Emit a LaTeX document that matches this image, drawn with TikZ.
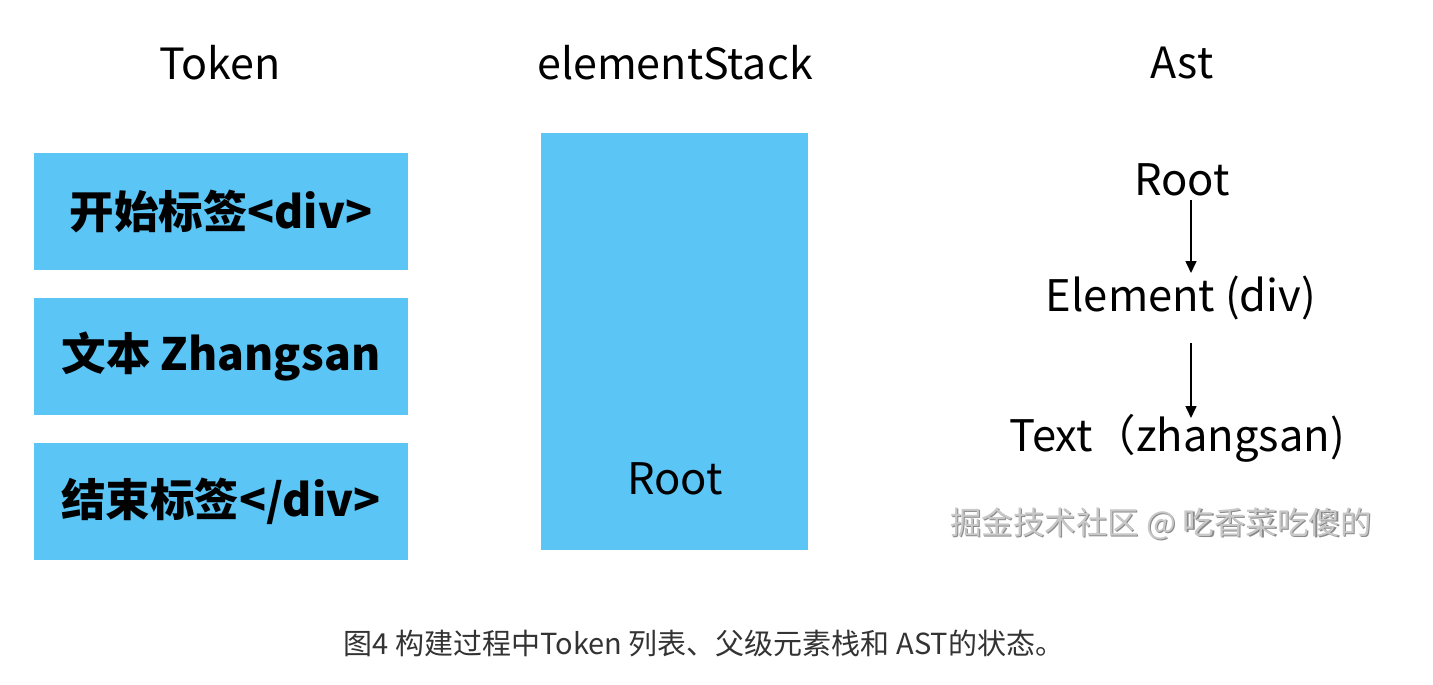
\documentclass[tikz,border=0pt]{standalone}
\usepackage{fontspec}
\setmainfont{Noto Sans CJK SC}
\usetikzlibrary{arrows.meta}
\definecolor{boxblue}{HTML}{5BC5F5}
\definecolor{capgray}{HTML}{333333}
\definecolor{wmgray}{HTML}{C8C8C8}
\definecolor{wmshadow}{HTML}{8A8A8A}
\tikzset{
  title/.style={font=\fontsize{43}{50}\selectfont, inner sep=0pt},
  tokbox/.style={fill=boxblue, draw=none, minimum width=374pt, minimum height=117pt, inner sep=0pt, font=\fontsize{44.5}{52}\selectfont\bfseries},
  stackbox/.style={fill=boxblue, draw=none},
  astnode/.style={font=\fontsize{43.5}{50}\selectfont, inner sep=0pt},
  conn/.style={-{Triangle[length=12pt,width=11pt]}, line width=1.6pt},
  capt/.style={font=\fontsize{29}{34}\selectfont, text=capgray, inner sep=0pt},
  wm/.style={font=\fontsize{31.5}{36}\selectfont, text=wmgray, inner sep=0pt}
}
\begin{document}
\begin{tikzpicture}[x=1pt,y=-1pt]
\useasboundingbox (0,0) rectangle (1433,685);
\fill[white] (0,0) rectangle (1433,685);
% titles
\node[title] (tTok) at (220,63) {Token};
\node[title] (tStack) at (675,63) {elementStack};
\node[title] (tAst) at (1182,63) {Ast};
% token boxes
\node[tokbox] (b1) at (221,211.5) {开始标签<div>};
\node[tokbox] (b2) at (221,356.5) {文本 Zhangsan};
\node[tokbox] (b3) at (221,501.5) {结束标签</div>};
% stack
\fill[stackbox] (541,133) rectangle (808,550);
\node[astnode] (sroot) at (675,479) {Root};
% ast
\node[astnode] (aroot) at (1182,180) {Root};
\node[astnode] (aelem) at (1181,298) {Element (div)};
\node[astnode] (atext) at (1177,438) {Text（zhangsan)};
\coordinate (a1s) at (1191,200);
\coordinate (a1e) at (1191,273);
\coordinate (a2s) at (1191,343);
\coordinate (a2e) at (1191,418);
\draw[conn] (a1s) -- (a1e);
\draw[conn] (a2s) -- (a2e);
% watermark
\node[wm, text=wmshadow, xshift=1.3pt, yshift=-1.3pt] (wms) at (1161,524) {掘金技术社区 @ 吃香菜吃傻的};
\node[wm] (wmt) at (1161,524) {掘金技术社区 @ 吃香菜吃傻的};
% caption
\node[capt] (cap) at (704,643) {图4 构建过程中Token 列表、父级元素栈和 AST的状态。};
\end{tikzpicture}
\end{document}
